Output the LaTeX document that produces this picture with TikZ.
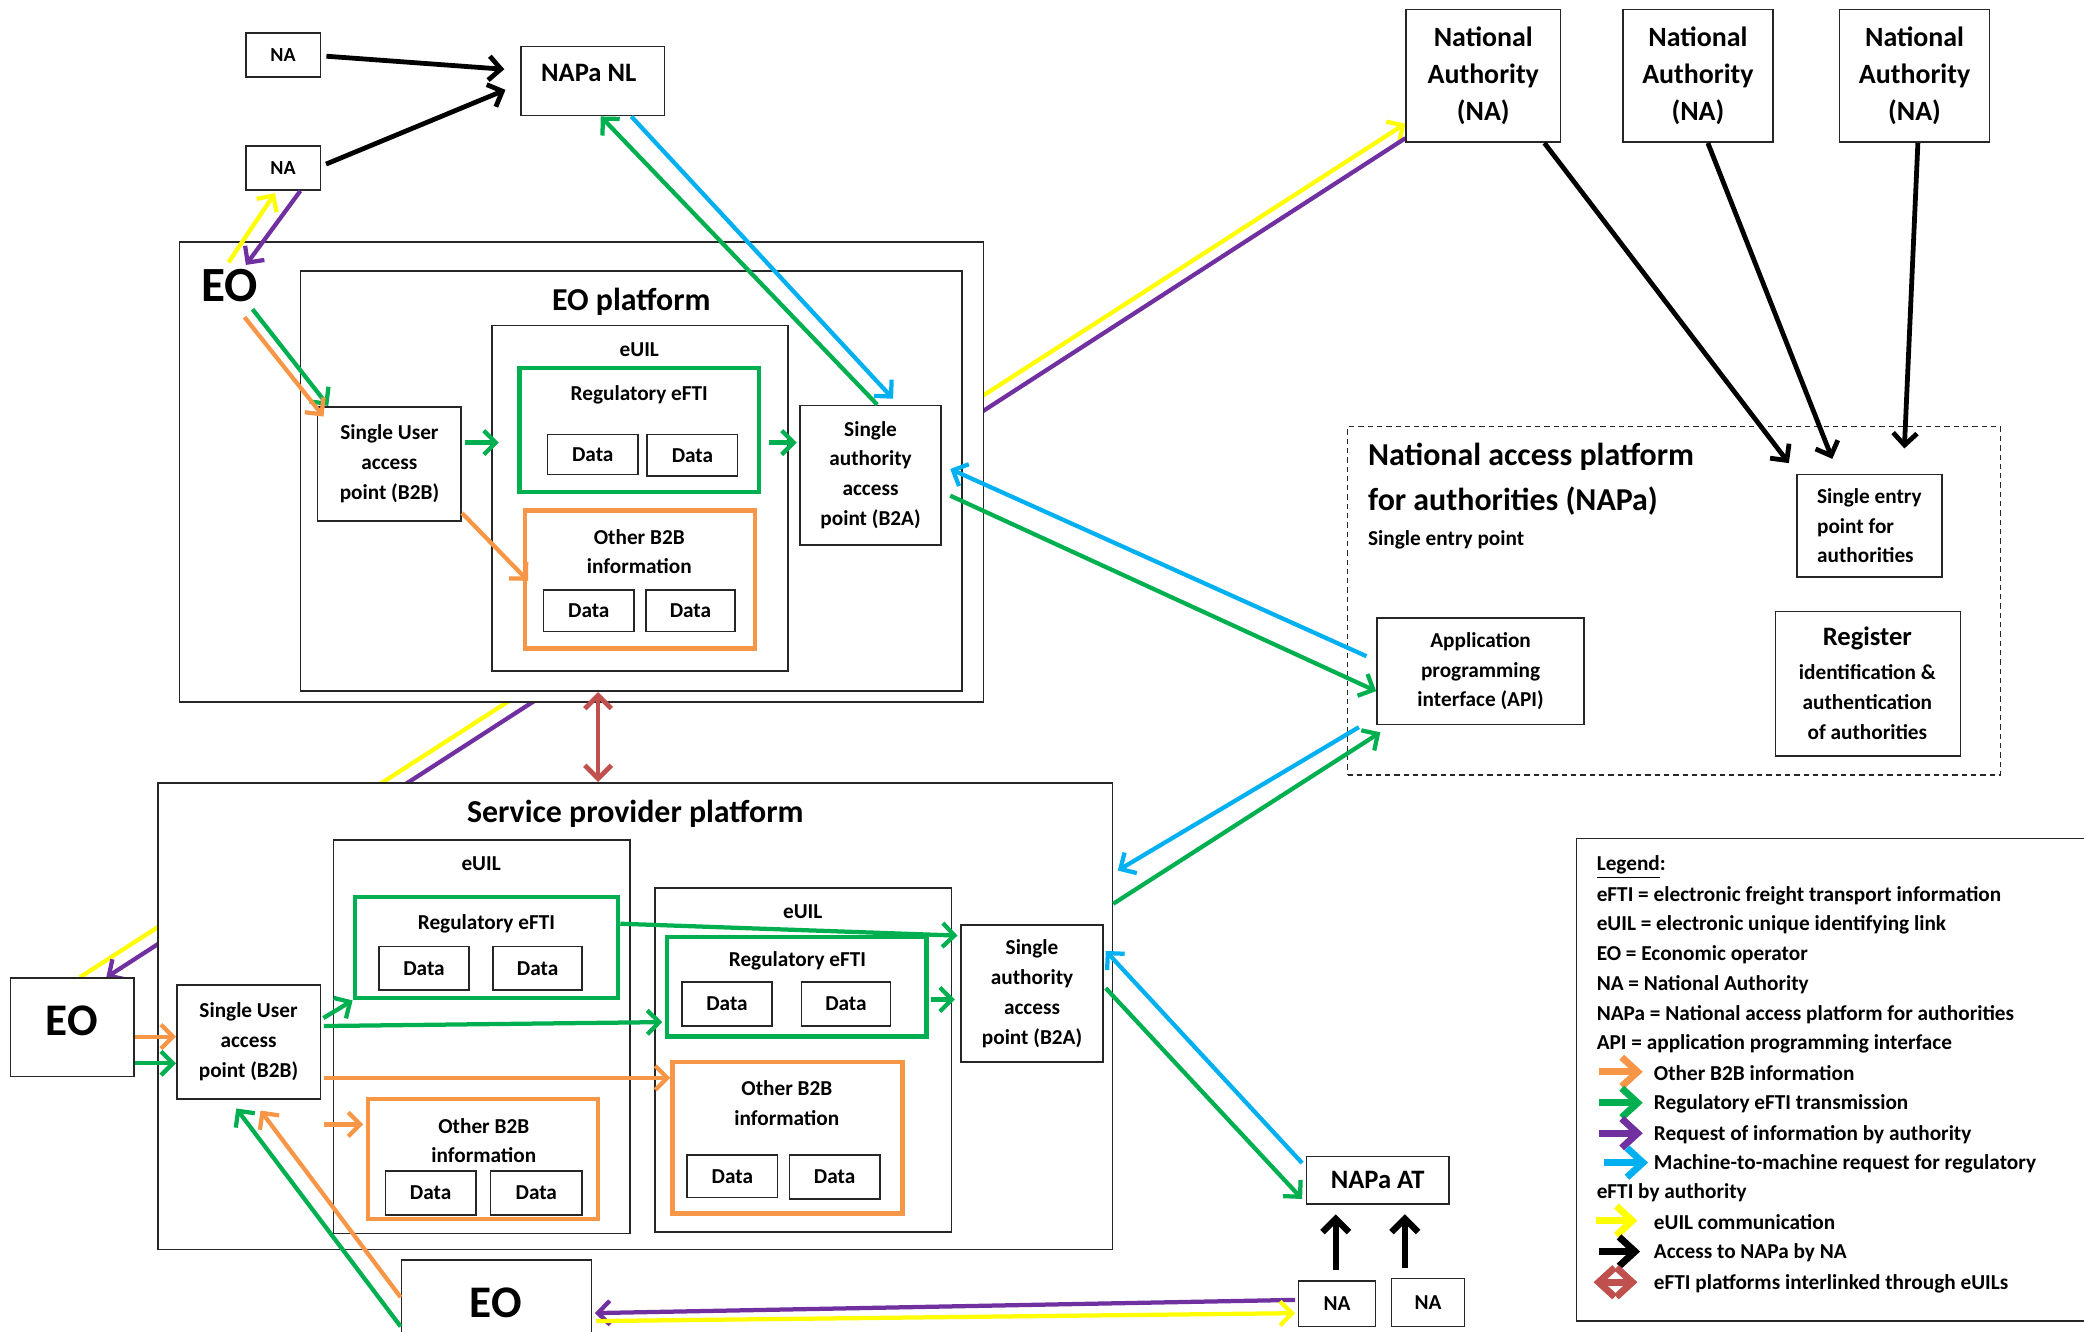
\documentclass[tikz,border=0pt]{standalone}
\usepackage{fontspec}
\setmainfont{Carlito}
\usetikzlibrary{arrows.meta,fit,calc}
\pgfdeclarelayer{background}
\pgfsetlayers{background,main}
\definecolor{cgreen}{HTML}{00B050}
\definecolor{corange}{HTML}{F79646}
\definecolor{cpurple}{HTML}{7030A0}
\definecolor{cblue}{HTML}{00B0F0}
\definecolor{cyellow}{HTML}{FFFF00}
\definecolor{cred}{HTML}{C0504D}
% box only
\newcommand{\bx}[6]{\node[#1,fit={(#3,#4)(#5,#6)}] (#2) {};}
% box with centred text
\newcommand{\bt}[8]{\node[#1,fit={(#4,#5)(#6,#7)}] (#3) {};\node[#2] (#3-t) at (#3.center) {#8};}
\begin{document}
\begin{tikzpicture}[x=0.5pt,y=-0.5pt,
  box/.style={draw=black!85, line width=0.6pt, fill=white, inner sep=0pt},
  gbox/.style={draw=cgreen, line width=1.7pt, fill=white, inner sep=0pt},
  obox/.style={draw=corange, line width=1.7pt, fill=white, inner sep=0pt},
  dbox/.style={draw=black!85, dash pattern=on 2pt off 1.5pt, line width=0.5pt, inner sep=0pt},
  f7/.style={font=\fontsize{7.5}{9}\selectfont\bfseries, inner sep=0pt},
  f8/.style={font=\fontsize{8}{11.25}\selectfont\bfseries, align=center, inner sep=0pt},
  f8l/.style={font=\fontsize{8}{11.25}\selectfont\bfseries, align=left, inner sep=0pt},
  f10/.style={font=\fontsize{10}{12}\selectfont\bfseries, inner sep=0pt},
  fna/.style={font=\fontsize{10.5}{14}\selectfont\bfseries, align=center, inner sep=0pt},
  f12/.style={font=\fontsize{12}{16.5}\selectfont\bfseries, inner sep=0pt},
  fbig/.style={font=\fontsize{18.5}{20}\selectfont\bfseries, inner sep=0pt},
  fmid/.style={font=\fontsize{17}{20}\selectfont\bfseries, inner sep=0pt},
  lg/.style={font=\fontsize{8}{10}\selectfont\bfseries, anchor=base west, inner sep=0pt},
  ar/.style={line width=1.6pt, -{Straight Barb[length=4.5pt,width=9pt]}},
  arb/.style={line width=1.8pt, -{Straight Barb[length=4.5pt,width=9pt]}},
  ark/.style={line width=2.4pt, -{Straight Barb[length=5pt,width=10pt]}},
  lga/.style={line width=2.6pt, -{Straight Barb[length=6pt,width=11pt]}},
]
\begin{pgfonlayer}{background}
\fill[white] (0,0) rectangle (1568,1002);
\end{pgfonlayer}
\useasboundingbox (0,0) rectangle (1568,1002);
\clip (0,0) rectangle (1568,1002);

% ---------------- top left ----------------
\bt{box}{f7}{naa}{185}{25}{241}{58}{NA}
\bt{box}{f7}{nab}{185}{110}{241}{143}{NA}
\bx{box}{napanl}{392}{35}{500}{87}
\node[f10] (tnapanl) at (443,55) {NAPa NL};

% ---------------- EO platform ----------------
\bx{box}{eoouter}{135}{182}{740}{528}
\node[fbig] (eotxt) at (173,215) {EO};
\bx{box}{eoplat}{226}{204}{724}{520}
\node[f12] (teoplat) at (475,227) {EO platform};
\bx{box}{euila}{370}{245}{593}{505}
\node[f8] (teuila) at (481,263) {eUIL};
\bx{gbox}{rega}{391}{277}{571}{370}
\node[f8] (trega) at (481,297) {Regulatory eFTI};
\bt{box}{f8}{daa}{412}{327}{480}{357}{Data}
\bt{box}{f8}{dab}{487}{327}{555}{358}{Data}
\bx{obox}{otha}{395}{384}{568}{488}
\node[f8, font=\fontsize{8}{11}\selectfont\bfseries] (totha) at (481,415) {Other B2B\\information};
\bt{box}{f8}{dac}{409}{444}{477}{475}{Data}
\bt{box}{f8}{dad}{486}{444}{553}{475}{Data}
\bt{box}{f8}{suapa}{239}{306}{347}{392}{Single User\\access\\point (B2B)}
\bt{box}{f8}{btaa}{602}{305}{708}{410}{Single\\authority\\access\\point (B2A)}

% ---------------- National authorities / NAPa ----------------
\bt{box}{fna}{na1}{1058}{7}{1174}{107}{National\\Authority\\(NA)}
\bt{box}{fna}{na2}{1221}{7}{1334}{107}{National\\Authority\\(NA)}
\bt{box}{fna}{na3}{1384}{7}{1497}{107}{National\\Authority\\(NA)}
\bx{dbox}{napa}{1014}{321}{1505}{583}
\node[f12, anchor=west] (tnapa1) at (1029,344) {National access platform};
\node[f12, anchor=west] (tnapa2) at (1029,377) {for authorities (NAPa)};
\node[f8, anchor=west] (tnapa3) at (1029,406) {Single entry point};
\bt{box}{f8l}{sep}{1352}{357}{1461}{434}{Single entry\\point for\\authorities}
\bt{box}{f8}{api}{1036}{465}{1192}{545}{Application\\programming\\interface (API)}
\bx{box}{reg}{1336}{460}{1475}{569}
\node[f10] (treg1) at (1405,480) {Register};
\node[f8] (treg2) at (1405,528) {identification \&\\authentication\\of authorities};

% ---------------- Service provider platform ----------------
\bx{box}{sp}{119}{589}{837}{940}
\node[f12] (tsp) at (478,612) {Service provider platform};
\bx{box}{euilb}{251}{632}{474}{928}
\node[f8] (teuilb) at (362,650) {eUIL};
\bx{gbox}{regb}{267}{675}{465}{751}
\node[f8] (tregb) at (366,695) {Regulatory eFTI};
\bt{box}{f8}{dba}{285}{712}{353}{745}{Data}
\bt{box}{f8}{dbb}{371}{712}{438}{745}{Data}
\bx{obox}{othb}{277}{827}{450}{917}
\node[f8, font=\fontsize{8}{11}\selectfont\bfseries] (tothb) at (364,858) {Other B2B\\information};
\bt{box}{f8}{dbc}{290}{881}{358}{914}{Data}
\bt{box}{f8}{dbd}{369}{881}{438}{914}{Data}
\bx{box}{euilc}{493}{668}{716}{927}
\node[f8] (teuilc) at (604,686) {eUIL};
\bx{gbox}{regc}{502}{705}{697}{780}
\node[f8] (tregc) at (600,723) {Regulatory eFTI};
\bt{box}{f8}{dca}{513}{739}{581}{772}{Data}
\bt{box}{f8}{dcb}{603}{739}{670}{772}{Data}
\bx{obox}{othc}{506}{799}{679}{913}
\node[f8, font=\fontsize{8}{11}\selectfont\bfseries] (tothc) at (592,830) {Other B2B\\information};
\bt{box}{f8}{dcc}{517}{869}{585}{901}{Data}
\bt{box}{f8}{dcd}{594}{869}{662}{902}{Data}
\bt{box}{f8}{suapb}{133}{741}{241}{827}{Single User\\access\\point (B2B)}
\bt{box}{f8}{btab}{723}{696}{830}{799}{Single\\authority\\access\\point (B2A)}
\bx{box}{eol}{8}{736}{101}{810}
\node[fmid] (teol) at (54,768) {EO};
\bx{box}{eob}{302}{948}{445}{1012}
\node[fmid] (teob) at (373,980) {EO};
\bt{box}{f10}{napaat}{983}{870}{1090}{906}{NAPa AT}
\bt{box}{f7,font=\fontsize{8}{9}\selectfont\bfseries}{nac}{977}{964}{1035}{998}{NA}
\bt{box}{f7,font=\fontsize{8}{9}\selectfont\bfseries}{nad}{1047}{962}{1102}{998}{NA}

% ---------------- long lines behind boxes ----------------
\begin{pgfonlayer}{background}
\draw[ar, cyellow] (60,0 |- eol.north) -- (na1.west |- 0,93);
\draw[ar, cpurple] (na1.west |- 0,104) -- (80,0 |- eol.north);
\end{pgfonlayer}

% ---------------- arrows top left ----------------
\draw[arb, black, shorten <=2pt, shorten >=6pt] (naa.east |- 0,42) -- (napanl.west |- 0,53);
\draw[arb, black, shorten <=2pt, shorten >=6pt] (nab.east |- 0,125) -- (napanl.west |- 0,63);
\draw[ar, cyellow, shorten >=1pt] ($(eotxt.north)+(-1,-5)$) -- (208,0 |- nab.south);
\draw[ar, cpurple] (226,0 |- nab.south) -- ($(eotxt.north)+(12,-3)$);
\draw[ar, cgreen] ($(eotxt.south)+(17,5)$) -- (247,0 |- suapa.north);
\draw[ar, corange] ($(eotxt.south)+(11,11)$) -- ($(suapa.north west)+(5,8)$);
\draw[ar, cgreen, shorten <=1pt, shorten >=7pt] (suapa.east |- 0,333) -- (rega.west |- 0,333);
\draw[ar, cgreen, shorten <=3pt, shorten >=1pt] (rega.east |- 0,333) -- (btaa.west |- 0,333);
\draw[ar, corange] (suapa.east |- 0,386) -- ($(otha.west |- 0,437)+(4,0)$);
\draw[ar, cgreen] (660,0 |- btaa.north) -- (452,0 |- napanl.south);
\draw[ar, cblue, shorten >=3pt] (475,0 |- napanl.south) -- (676,0 |- btaa.north);

% red interlink
\draw[line width=1.8pt, cred, {Straight Barb[length=5pt,width=10pt]}-{Straight Barb[length=5pt,width=10pt]}] (450,0 |- eoplat.south) -- (450,0 |- sp.north);

% ---------------- arrows to NAPa ----------------
\draw[ar, cblue, shorten <=4pt, shorten >=3.5pt] (api.west |- 0,497) -- (btaa.east |- 0,350);
\draw[ar, cgreen, shorten <=3.5pt] (btaa.east |- 0,370) -- (api.west |- 0,520);
\draw[arb, black, shorten >=5pt] (1162,0 |- na1.south) -- (1352,0 |- sep.north);
\draw[arb, black, shorten >=6pt] (1285,0 |- na2.south) -- (1383,0 |- sep.north);
\draw[arb, black, shorten >=9.5pt] (1443,0 |- na3.south) -- (1432,0 |- sep.north);
\draw[ar, cblue, shorten <=1.5pt, shorten >=2pt] (1025,0 |- api.south) -- (sp.east |- 0,657);
\draw[ar, cgreen, shorten >=5pt] (sp.east |- 0,680) -- (1047,0 |- api.south);
\draw[ar, cblue, shorten <=2pt, shorten >=1pt] (napaat.west |- 0,878) -- (btab.east |- 0,714);
\draw[ar, cgreen, shorten <=1pt, shorten >=2pt] (btab.east |- 0,742) -- (napaat.west |- 0,905);
\draw[ark, black, shorten <=4pt, shorten >=3.5pt] (1005,0 |- nac.north) -- (1005,0 |- napaat.south);
\draw[ark, black, shorten <=3.5pt, shorten >=3.5pt] (1057,0 |- nad.north) -- (1057,0 |- napaat.south);
\draw[ar, cpurple, shorten <=1pt, shorten >=1pt] (nac.west |- 0,978) -- (eob.east |- 0,988);
\draw[ar, cyellow, shorten <=1.5pt, shorten >=1pt] (eob.east |- 0,994) -- (nac.west |- 0,988);

% ---------------- arrows service provider ----------------
\draw[ar, corange] (eol.east |- 0,780) -- (suapb.west |- 0,780);
\draw[ar, cgreen] (eol.east |- 0,800) -- (suapb.west |- 0,800);
\draw[ar, cgreen, shorten <=1pt] (suapb.east |- 0,767) -- (regb.south west);
\draw[ar, cgreen, shorten <=1pt, shorten >=1pt] (suapb.east |- 0,772) -- (regc.west |- 0,769);
\draw[ar, cgreen, shorten >=1pt] (regb.east |- 0,695) -- (btab.west |- 0,704);
\draw[ar, cgreen, shorten <=1pt, shorten >=2pt] (regc.east |- 0,752) -- (btab.west |- 0,752);
\draw[ar, corange, shorten <=1pt] (suapb.east |- 0,811) -- (othc.west |- 0,811);
\draw[ar, corange, shorten <=1pt, shorten >=1pt] (suapb.east |- 0,846) -- (othb.west |- 0,846);
\draw[ar, cgreen, shorten >=4pt] (eob.west |- 0,998) -- (173,0 |- suapb.south);
\draw[ar, corange, shorten >=5pt] (eob.west |- 0,976) -- (190,0 |- suapb.south);

% ---------------- legend ----------------
\bx{box}{legend}{1186}{631}{1590}{994}
\node[lg] (lg0) at (1201,655) {\underline{Legend}:};
\node[lg] (lg1) at (1201,678) {eFTI = electronic freight transport information};
\node[lg] (lg2) at (1201,700) {eUIL = electronic unique identifying link};
\node[lg] (lg3) at (1201,723) {EO = Economic operator};
\node[lg] (lg4) at (1201,745) {NA = National Authority};
\node[lg] (lg5) at (1201,768) {NAPa = National access platform for authorities};
\node[lg] (lg6) at (1201,790) {API = application programming interface};
\node[lg] (lg7) at (1244,813) {Other B2B information};
\node[lg] (lg8) at (1244,835) {Regulatory eFTI transmission};
\node[lg] (lg9) at (1244,858) {Request of information by authority};
\node[lg] (lg10) at (1244,880) {Machine-to-machine request for regulatory};
\node[lg] (lg11) at (1201,902) {eFTI by authority};
\node[lg] (lg12) at (1244,925) {eUIL communication};
\node[lg] (lg13) at (1244,947) {Access to NAPa by NA};
\node[lg] (lg14) at (1244,970) {eFTI platforms interlinked through eUILs};
\draw[lga, corange] ($(lg7.west)+(-41,-1)$) -- ($(lg7.west)+(-8,-1)$);
\draw[lga, cgreen] ($(lg8.west)+(-41,-1)$) -- ($(lg8.west)+(-8,-1)$);
\draw[lga, cpurple] ($(lg9.west)+(-41,-1)$) -- ($(lg9.west)+(-8,-1)$);
\draw[lga, cblue] ($(lg10.west)+(-37,-1)$) -- ($(lg10.west)+(-4,-1)$);
\draw[lga, cyellow] ($(lg12.west)+(-43,-1)$) -- ($(lg12.west)+(-12,-1)$);
\draw[lga, black] ($(lg13.west)+(-41,-1)$) -- ($(lg13.west)+(-10,-1)$);
\draw[line width=2.6pt, cred, {Straight Barb[length=6pt,width=11pt]}-{Straight Barb[length=6pt,width=11pt]}] ($(lg14.west)+(-45,-1)$) -- ($(lg14.west)+(-12,-1)$);
\end{tikzpicture}
\end{document}
